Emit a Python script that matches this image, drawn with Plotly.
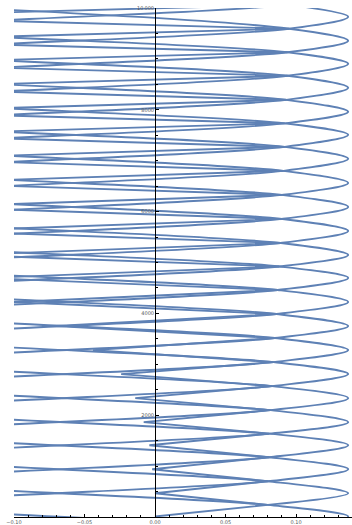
import plotly.graph_objects as go

# ---- values ----
# heights of the big right-hand crests (x ~ 0.137), bottom to top
crest_y = [-470, 10, 466, 938, 1410, 1863, 2335, 2807, 3279, 3752, 4224, 4696,
           5148, 5620, 6092, 6564, 7036, 7508, 7960, 8432, 8904, 9357, 9829, 10300]
crest_x = [0.137] * 0 + [0.137, 0.137, 0.137, 0.137, 0.137, 0.137, 0.137, 0.137,
                         0.137, 0.137, 0.137, 0.137, 0.137, 0.137, 0.137, 0.137,
                         0.137, 0.137, 0.137, 0.137, 0.137, 0.137, 0.137, 0.137]
# left tips of the inner zig-zag, at the crest heights
tip_x = [0.000, 0.000, 0.000, -0.002, -0.004, -0.008, -0.014, -0.024, -0.044, -0.070,
         -0.100, -0.120, -0.135, -0.150, -0.160, -0.170, -0.180, -0.190, -0.200, -0.205,
         -0.210, -0.215, -0.220, -0.220]
# crossing points ("corners") between neighbouring crests
corner_y = [-230, 238, 702, 1174, 1637, 2099, 2571, 3043, 3516, 3988, 4460, 4922,
            5384, 5856, 6328, 6800, 7272, 7734, 8196, 8668, 9130, 9593, 10065]
corner_x = [0.080, 0.080, 0.080, 0.081, 0.081, 0.082, 0.083, 0.084, 0.085, 0.086,
            0.087, 0.088, 0.089, 0.090, 0.090, 0.091, 0.092, 0.092, 0.093, 0.094,
            0.094, 0.095, 0.095]
# far-left turning points of the main strands (outside the visible range)
trough_x = [-0.180, -0.180, -0.180, -0.180, -0.180, -0.180, -0.180, -0.180, -0.180,
            -0.180, -0.180, -0.180, -0.180, -0.180, -0.180, -0.180, -0.180, -0.180,
            -0.180, -0.180, -0.180, -0.180, -0.180]

x_tick_vals = [-0.10, -0.05, 0.00, 0.05, 0.10]
x_tick_text = ["\u22120.10", "\u22120.05", "0.00", "0.05", "0.10"]
y_tick_vals = [2000, 4000, 6000, 8000, 10000]
y_tick_text = ["2000", "4000", "6000", "8000", "10\u2009000"]

LINE_COLOR = "#5E81B5"

# ---- assemble the three interleaved strands (crest, crossing, trough, crossing, ...)
strands = []
for s in range(3):
    xs, ys = [], []
    for i in range(len(crest_y)):
        if i % 3 != s:
            continue
        if i - 1 >= 0:
            xs.append(corner_x[i - 1]); ys.append(corner_y[i - 1])
        xs.append(crest_x[i]); ys.append(crest_y[i])
        if i < len(corner_y):
            xs.append(corner_x[i]); ys.append(corner_y[i])
        if i + 1 < len(corner_y):
            xs.append(trough_x[i + 1]); ys.append(corner_y[i + 1])
    strands.append((xs, ys))

# ---- inner zig-zag: tip, crossing, tip, crossing ...
zig_xs, zig_ys = [], []
for i in range(len(crest_y)):
    zig_xs.append(tip_x[i]); zig_ys.append(crest_y[i])
    if i < len(corner_y):
        zig_xs.append(corner_x[i]); zig_ys.append(corner_y[i])

fig = go.Figure()
for xs, ys in strands:
    fig.add_trace(go.Scatter(x=xs, y=ys, mode="lines",
                             line=dict(color=LINE_COLOR, width=1.9, shape="spline", smoothing=1.0),
                             hoverinfo="skip", showlegend=False))
fig.add_trace(go.Scatter(x=zig_xs, y=zig_ys, mode="lines",
                         line=dict(color=LINE_COLOR, width=1.9),
                         hoverinfo="skip", showlegend=False))

x_min, x_max = -0.10, 0.1397
y_axis_pos = (0 - x_min) / (x_max - x_min)

fig.update_layout(
    width=352, height=525,
    margin=dict(l=14, r=0, t=8, b=8),
    paper_bgcolor="white", plot_bgcolor="white",
    showlegend=False,
    font=dict(family="DejaVu Sans", size=5, color="#555555"),
    xaxis=dict(range=[x_min, x_max], showgrid=False, zeroline=False,
               showline=True, linecolor="black", linewidth=1,
               ticks="inside", ticklen=3, tickcolor="black", tickwidth=1,
               tickvals=x_tick_vals, ticktext=x_tick_text,
               minor=dict(ticks="inside", ticklen=2, tickcolor="black", dtick=0.01, tick0=0),
               tickfont=dict(size=5, color="#555555")),
    yaxis=dict(range=[0, 10000], showgrid=False, zeroline=False,
               anchor="free", position=y_axis_pos,
               showline=True, linecolor="black", linewidth=1,
               ticks="inside", ticklen=3, tickcolor="black", tickwidth=1,
               tickvals=y_tick_vals, ticktext=y_tick_text,
               minor=dict(ticks="inside", ticklen=2, tickcolor="black", dtick=500, tick0=0),
               tickfont=dict(size=5, color="#555555")),
)

fig.write_html("out.html")
